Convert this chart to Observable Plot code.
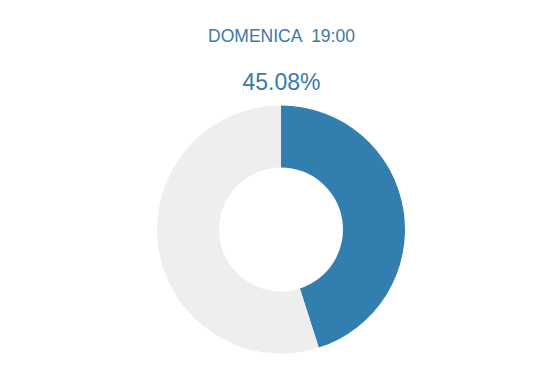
<!DOCTYPE html>
<html>
<head>
<meta charset="utf-8">
<script src="https://cdn.jsdelivr.net/npm/d3@7"></script>
<script src="https://cdn.jsdelivr.net/npm/@observablehq/plot@0.6"></script>
<style>
  html, body { margin: 0; padding: 0; background: #fff; }
  #chart svg { display: block; }
</style>
</head>
<body>
<div id="chart"></div>
<script>
const categories = ["Votanti", "Non votanti"];
const values = [45.08, 54.92];
const colors = ["#317eaf", "#eeeeee"];
const titleText = "DOMENICA  19:00";
const valueLabel = "45.08%";

const slices = categories.map((c, i) => ({category: c, value: values[i], color: colors[i]}));

const donut = Plot.dot(slices, {
  x: () => 0,
  y: () => 0,
  render(index, scales, values, dimensions, context) {
    const cx = scales.x(0), cy = scales.y(0);
    const r = scales.x(1) - cx;
    const pie = d3.pie().sort(null).value(d => d.value)(slices);
    const arc = d3.arc().innerRadius(r * 0.5).outerRadius(r);
    const g = d3.create("svg:g").attr("transform", `translate(${cx},${cy})`);
    g.selectAll("path").data(pie).join("path")
      .attr("d", arc)
      .attr("fill", d => d.data.color);
    return g.node();
  }
});

const chart = Plot.plot({
  width: 559,
  height: 379,
  margin: 0,
  style: {fontFamily: "'Liberation Sans', Arial, sans-serif", background: "#fff"},
  x: {domain: [-1, 1], range: [281 - 124, 281 + 124], axis: null},
  y: {domain: [-1, 1], range: [229.5 + 124, 229.5 - 124], axis: null},
  marks: [
    donut,
    Plot.text([titleText], {text: d => d, frameAnchor: "top", lineAnchor: "bottom", dx: 1.5, dy: 41.5, fontSize: 17.5, fill: "#3a7aa8"}),
    Plot.text([valueLabel], {text: d => d, frameAnchor: "top", lineAnchor: "bottom", dx: 1.5, dy: 89, fontSize: 23, fill: "#3a7aa8"})
  ]
});
document.getElementById("chart").appendChild(chart);
</script>
</body>
</html>
